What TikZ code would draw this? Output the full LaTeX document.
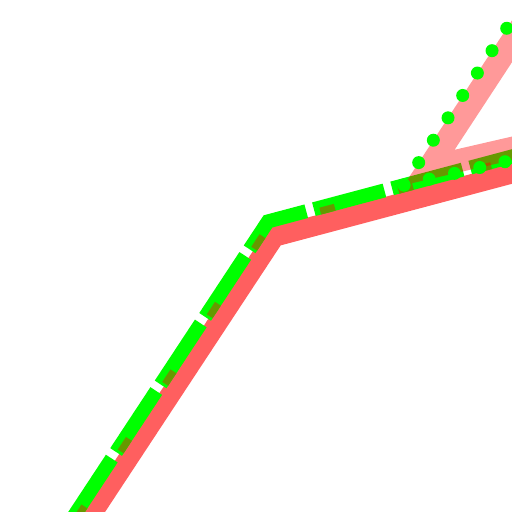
\documentclass[tikz,border=0pt]{standalone}
\begin{document}
\begin{tikzpicture}[x=1pt,y=-1pt,
  redband/.style={draw=bandred,line width=20pt,line join=miter},
  greendash/.style={draw=lgreen,line width=14pt,line join=miter,dash pattern=on 73pt off 7.9pt},
  olivedash/.style={draw=olivepatch,line width=7pt,line join=miter,dash pattern=on 15pt off 65.9pt,dash phase=77.9pt},
  pinkband/.style={draw=red,opacity=0.4,line width=23pt,line join=miter},
  greendots/.style={draw=lgreen,line width=13pt,line cap=round}]
\definecolor{bandred}{RGB}{255,95,95}
\definecolor{lgreen}{RGB}{0,255,0}
\definecolor{olivepatch}{RGB}{102,153,0}
\useasboundingbox (0,0) rectangle (512,512);
\clip (0,0) rectangle (512,512);
% red band
\coordinate (rs) at (43.4,587.4);
\coordinate (rc) at (274.4,236.7);
\coordinate (re) at (583.6,154.4);
\draw[redband] (rs) -- (rc) -- (re);
% green dashed
\coordinate (gs) at (27.1,587.1);
\coordinate (gc) at (268,221.4);
\coordinate (ge) at (577.2,139.1);
\draw[greendash] (gs) -- (gc) -- (ge);
% olive patches
\coordinate (os) at (30.0,589.0);
\coordinate (oc) at (270.2,224.4);
\coordinate (oe) at (578.1,142.5);
\draw[olivedash] (os) -- (oc) -- (oe);
% pink V
\coordinate (pt) at (566.3,-41.6);
\coordinate (pc) at (429.3,167.4);
\coordinate (pe) at (575.5,133.7);
\draw[pinkband] (pt) -- (pc) -- (pe);
% green dots
\coordinate (d) at (404,185);
\coordinate (dt) at (521.4,5.9);
\coordinate (dr) at (530.2,155.9);
\draw[greendots,dash pattern=on 0pt off 26.77pt] (d) -- (dt);
\draw[greendots,dash pattern=on 0pt off 25.91pt] (d) -- (dr);
\end{tikzpicture}
\end{document}
